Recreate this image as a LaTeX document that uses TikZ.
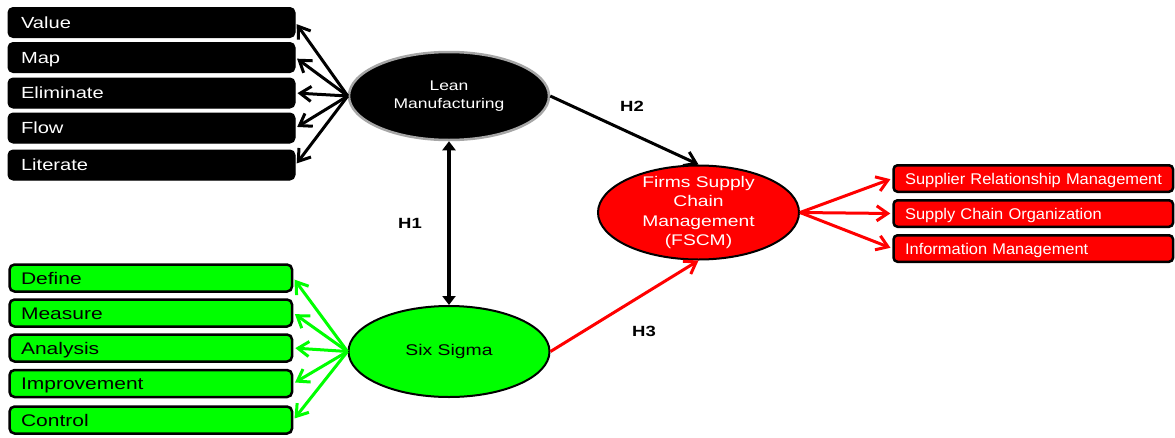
\documentclass[tikz,border=0pt]{standalone}
\usepackage{fontspec}
\setmainfont{Liberation Sans}
\newfontfamily\widesf{Liberation Sans}[FakeStretch=1.25]
\newfontfamily\redsf{Liberation Sans}[FakeStretch=1.06]
\usepackage{xcolor}
\usepackage{tikz}
\usetikzlibrary{shapes.geometric}
\usetikzlibrary{arrows.meta}
\definecolor{sgreen}{RGB}{0,255,0}
\definecolor{sred}{RGB}{255,0,0}
\tikzset{
  barb/.style = {-{Straight Barb[length=11pt,width=15pt]}, line width=3pt, shorten >=2pt},
  lmbox/.style = {rectangle, rounded corners=5pt, fill=black, draw=black, line width=1pt,
    text=white, anchor=west, minimum height=30pt, text width=261pt, inner xsep=13pt,
    inner ysep=0pt, text height=11.5pt, text depth=0pt, align=left,
    font=\widesf\fontsize{16.1}{18}\selectfont},
  ssbox/.style = {lmbox, fill=sgreen, line width=2.5pt, text=black, minimum height=27pt,
    text width=259.5pt, inner xsep=11.5pt, text height=12pt,
    font=\widesf\fontsize{16.8}{18}\selectfont},
  scbox/.style = {lmbox, fill=sred, line width=2.5pt, rounded corners=4pt, minimum height=26.5pt,
    text width=256.5pt, inner xsep=11.5pt, text height=11.1pt,
    font=\redsf\fontsize{15.5}{18}\selectfont},
  lmell/.style = {ellipse, fill=black, draw=gray!70, line width=2.5pt, text=white,
    minimum width=200pt, minimum height=88pt, inner sep=0pt, align=center,
    font=\widesf\fontsize{14}{18}\selectfont},
  ssell/.style = {lmell, fill=sgreen, draw=black, line width=2pt, text=black,
    minimum width=201pt, minimum height=91pt, font=\widesf\fontsize{15.5}{18}\selectfont},
  scell/.style = {lmell, fill=sred, draw=black, line width=2pt, minimum width=201pt,
    minimum height=94pt, inner ysep=-16pt, font=\widesf\fontsize{15.4}{19.5}\selectfont},
  hyp/.style = {font=\widesf\bfseries\fontsize{14.8}{18}\selectfont}
}

\begin{document}
\begin{tikzpicture}[x=1pt,y=-1pt]
  \useasboundingbox (0,0) rectangle (1175,437);
  %%% lean manufacturing
  \node[lmell] (lean) at (449,96) {Lean\\Manufacturing};
  \foreach \yy/\nn/\txt in {22.5/1/Value,57.5/2/Map,93/3/Eliminate,128/4/Flow,165/5/Literate} {
    \node[lmbox] (lm\nn) at (7.5,\yy) {\txt};
    \draw[barb,black] (lean.west) -- (lm\nn.east);
  }
  %%% six sigma
  \node[ssell] (six) at (449,351.5) {Six Sigma};
  \foreach \yy/\nn/\txt in {278/1/Define,313/2/Measure,348/3/Analysis,383.5/4/Improvement,420/5/Control} {
    \node[ssbox] (ss\nn) at (8.3,\yy) {\txt};
    \draw[barb,sgreen] (six.west) -- (ss\nn.east);
  }
  %%% supply chain
  \node[scell] (fscm) at (698.5,212.5) {Firms Supply\\Chain\\Management\\(FSCM)};
  \foreach \yy/\nn/\txt in {178.5/1/Supplier Relationship Management,213.5/2/Supply Chain Organization,248.5/3/Information Management} {
    \node[scbox] (sc\nn) at (892.3,\yy) {\mbox{\txt}};
    \draw[barb,sred] (fscm.east) -- (sc\nn.west);
  }
  %%% hypotheses
  \draw[line width=4pt,{Triangle[length=9pt,width=13pt]}-{Triangle[length=9pt,width=13pt]}] (lean.south) -- (six.north);
  \draw[barb,black,shorten >=0pt] (lean.east) -- (fscm.north);
  \draw[barb,sred,shorten >=0pt] (six.east) -- (fscm.south);
  \node[hyp] (h1) at (410,223) {H1};
  \node[hyp] (h2) at (632,106) {H2};
  \node[hyp] (h3) at (644,331) {H3};
\end{tikzpicture}
\end{document}
